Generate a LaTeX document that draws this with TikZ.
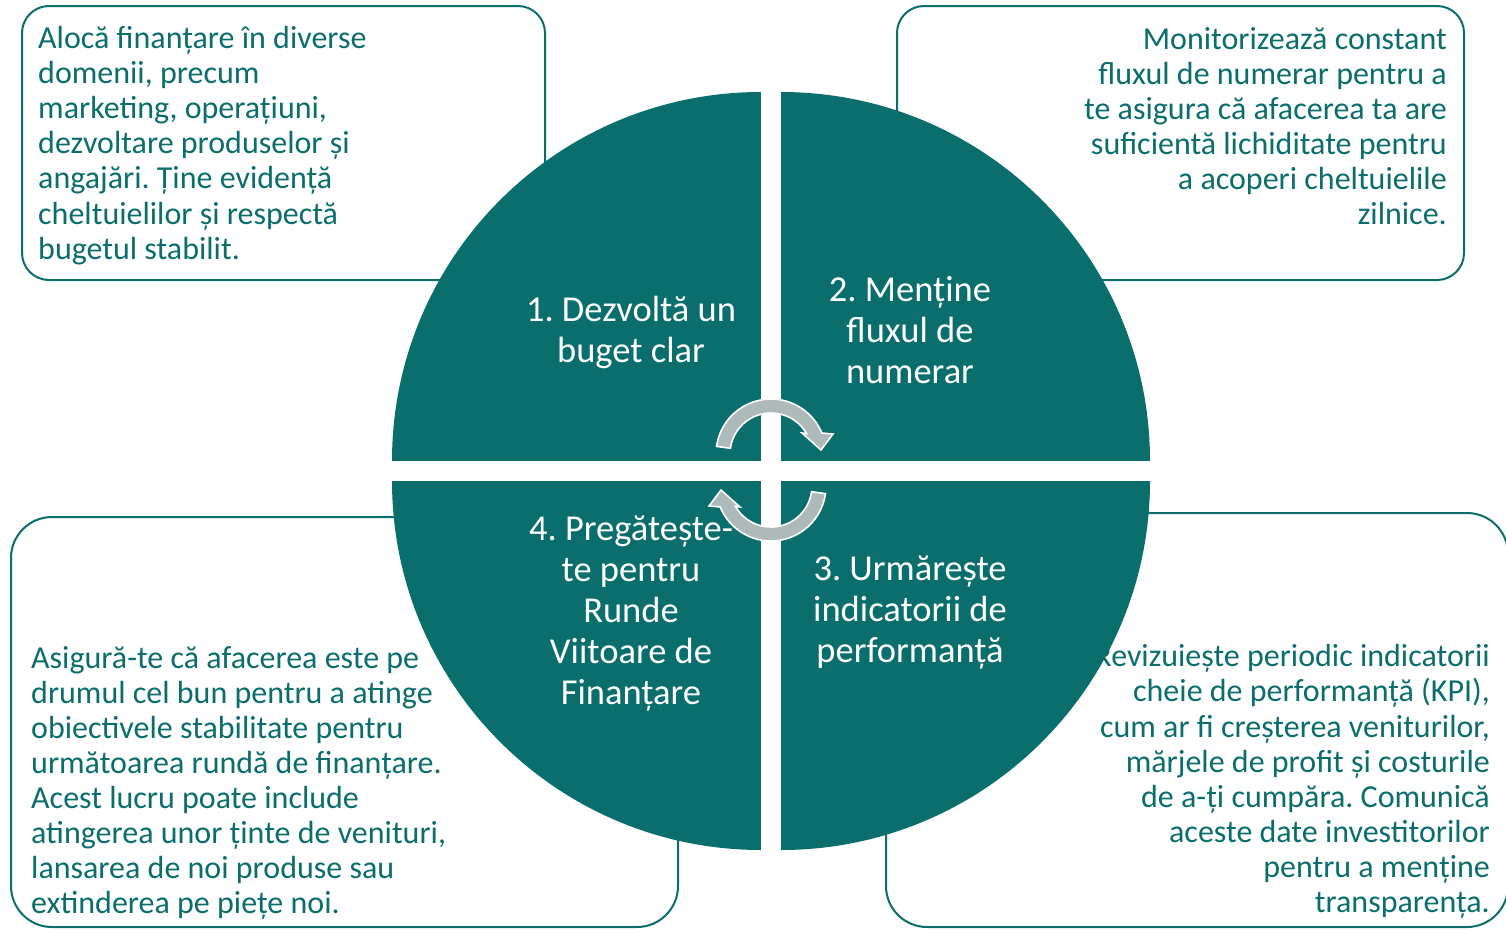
\documentclass[tikz,border=0pt]{standalone}
\usepackage{fontspec}
\setmainfont{Carlito}
\frenchspacing
\definecolor{tealdark}{HTML}{0A6E6C}
\definecolor{arrowgray}{HTML}{AEBAB9}
\usetikzlibrary{calc}
\tikzset{
  notebox/.style={draw=tealdark, line width=2pt, fill=white},
  notetext/.style={text=tealdark, inner sep=0pt, font=\fontsize{32}{35.1}\selectfont},
  quarter/.style={fill=tealdark},
  steplabel/.style={text=white, inner sep=0pt, align=center, font=\fontsize{36.5}{41}\selectfont},
  cyclearrow/.pic={
    \fill[arrowgray, draw=white, line width=1.6pt]
      ($(0,-16)+(188:55)$) arc[start angle=188, end angle=337.6, radius=55]
      -- (62,-36) -- (50,-20) -- (31,-37)
      -- ($(0,-16)+(330.2:41)$) arc[start angle=330.2, end angle=188, radius=41]
      -- cycle;
  }
}
\begin{document}
\begin{tikzpicture}[x=1pt, y=-1pt]
\useasboundingbox (0,0) rectangle (1506,929);

% description boxes
\draw[notebox, rounded corners=27pt] (22,6) rectangle (545,280);
\draw[notebox, rounded corners=27pt] (897,6) rectangle (1464,280);
\draw[notebox, rounded corners=41pt] (11,517) rectangle (678,927);
\draw[notebox, rounded corners=41pt] (886,513) rectangle (1508,927);

\node[notetext, anchor=west, align=left] (t1) at (38,145.5)
  {Alocă finanțare în diverse\\domenii, precum\\marketing, operațiuni,\\dezvoltare produselor și\\angajări. Ține evidență\\cheltuielilor și respectă\\bugetul stabilit.};
\node[notetext, anchor=east, align=right] (t2) at (1447,126)
  {Monitorizează constant\\fluxul de numerar pentru a\\te asigura că afacerea ta are\\suficientă lichiditate pentru\\a acoperi cheltuielile\\zilnice.};
\node[notetext, anchor=west, align=left] (t4) at (31,783)
  {Asigură-te că afacerea este pe\\drumul cel bun pentru a atinge\\obiectivele stabilitate pentru\\următoarea rundă de finanțare.\\Acest lucru poate include\\atingerea unor ținte de venituri,\\lansarea de noi produse sau\\extinderea pe piețe noi.};
\node[notetext, anchor=east, align=right] (t3) at (1490,781.5)
  {Revizuiește periodic indicatorii\\cheie de performanță (KPI),\\cum ar fi creșterea veniturilor,\\mărjele de profit și costurile\\de a-ți cumpăra. Comunică\\aceste date investitorilor\\pentru a menține\\transparența.};

% four quarter discs
\begin{scope}
  \clip (761,461) circle[radius=369];
  \fill[quarter] (380,80) rectangle (761,461);
\end{scope}
\begin{scope}
  \clip (781,461) circle[radius=369];
  \fill[quarter] (781,80) rectangle (1160,461);
\end{scope}
\begin{scope}
  \clip (781,481) circle[radius=369];
  \fill[quarter] (781,481) rectangle (1160,860);
\end{scope}
\begin{scope}
  \clip (761,481) circle[radius=369];
  \fill[quarter] (380,481) rectangle (761,860);
\end{scope}

% cycle arrows in the middle
\pic at (771,470) {cyclearrow};
\pic[rotate=180] at (771,470) {cyclearrow};

% step labels
\node[steplabel] (s1) at (631,332.5) {1. Dezvoltă un\\buget clar};
\node[steplabel] (s2) at (910,330) {2. Menține\\fluxul de\\numerar};
\node[steplabel] (s3) at (910,613) {3. Urmărește\\indicatorii de\\performanță};
\node[steplabel] (s4) at (631,614) {4. Pregătește-\\te pentru\\Runde\\Viitoare de\\Finanțare};
\end{tikzpicture}
\end{document}
